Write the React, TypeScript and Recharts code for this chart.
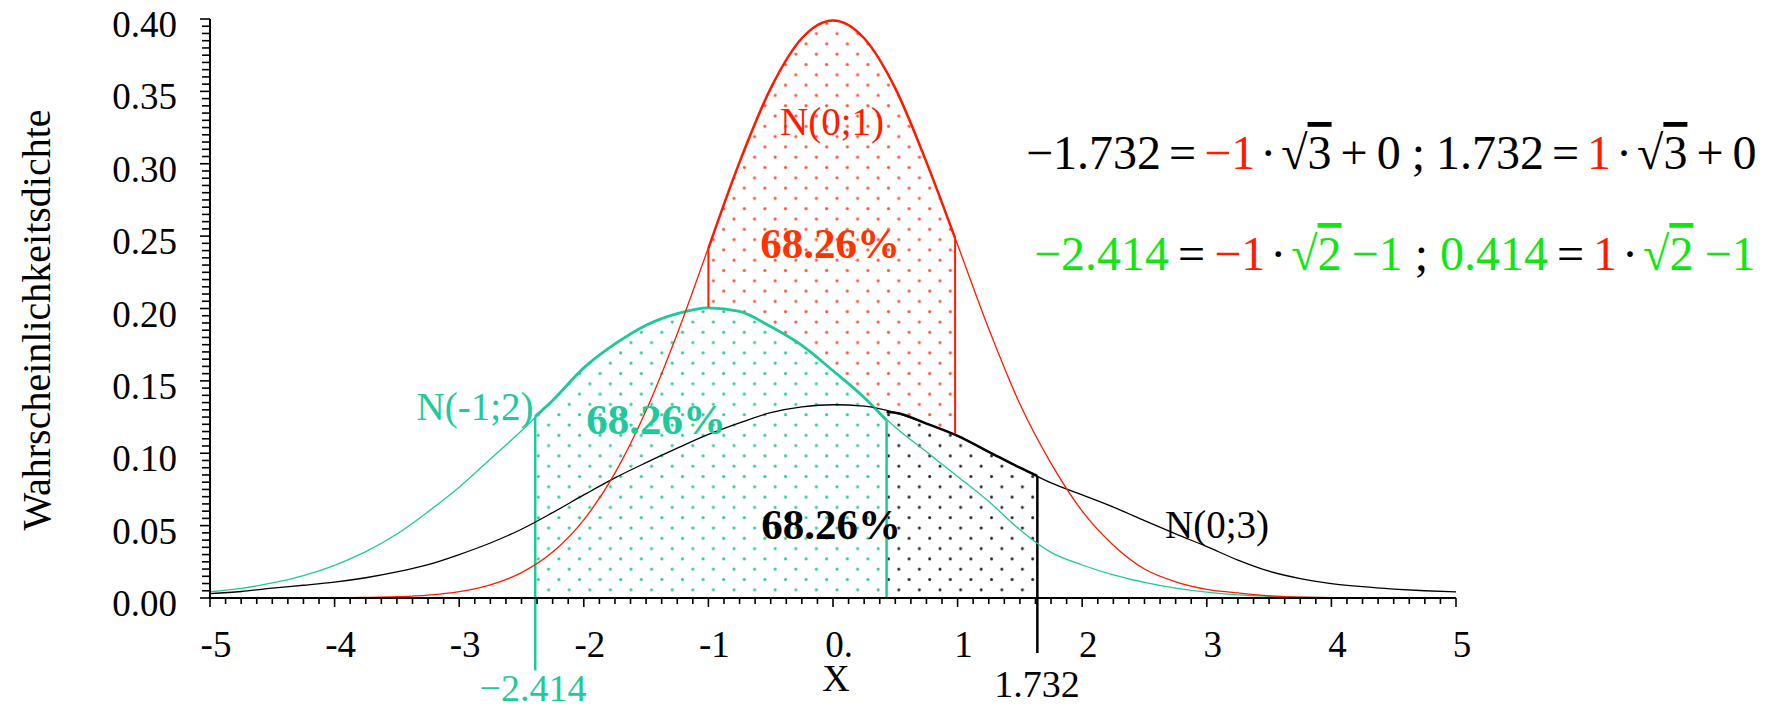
import { Area, ComposedChart, Line, ReferenceLine, XAxis, YAxis } from 'recharts'

const FONT = '"Liberation Serif", "Times New Roman", serif'
const RED = '#ff1a00'
const TEAL = '#1ec99a'
const GREEN = '#11e611'
const BLACK = '#000000'

const X_VALUES = [
  -5, -4.75, -4.5, -4.25, -4, -3.75, -3.5, -3.25, -3, -2.75, -2.5, -2.25, -2, -1.75, -1.5, -1.25, -1, -0.75, -0.5, -0.25,
  0, 0.25, 0.5, 0.75, 1, 1.25, 1.5, 1.75, 2, 2.25, 2.5, 2.75, 3, 3.25, 3.5, 3.75, 4, 4.25, 4.5, 4.75, 5
]

// N(0;1)
const RED_DENSITY = [
  0, 0, 0, 0.0001, 0.0001, 0.0004, 0.0009, 0.002, 0.0044, 0.0091, 0.0175, 0.0317, 0.054, 0.0863, 0.1295, 0.1826, 0.242,
  0.3011, 0.3521, 0.3867, 0.399, 0.3867, 0.3521, 0.3011, 0.244, 0.186, 0.134, 0.093, 0.06, 0.0365, 0.02, 0.0112, 0.006,
  0.0035, 0.0015, 0.0006, 0.0002, 0.0001, 0, 0, 0
]

// N(-1;2)
const TEAL_DENSITY = [
  0.0043, 0.0067, 0.0104, 0.0155, 0.0226, 0.032, 0.0442, 0.0596, 0.0765, 0.096, 0.1155, 0.1365, 0.159, 0.1755, 0.1885, 0.1965,
  0.2005, 0.198, 0.1875, 0.1745, 0.157, 0.1385, 0.118, 0.101, 0.084, 0.0667, 0.0472, 0.0315, 0.0228, 0.016, 0.0108, 0.0068,
  0.004, 0.0022, 0.0012, 0.0006, 0.0003, 0.0001, 0.0001, 0, 0
]

// N(0;3)
const BLACK_DENSITY = [
  0.003, 0.0045, 0.0068, 0.0088, 0.011, 0.014, 0.018, 0.023, 0.03, 0.038, 0.0475, 0.059, 0.0712, 0.083, 0.0935, 0.1035,
  0.113, 0.121, 0.128, 0.132, 0.1335, 0.1325, 0.128, 0.1205, 0.112, 0.101, 0.09, 0.0795, 0.0712, 0.0628, 0.0535, 0.0443,
  0.0355, 0.0262, 0.0185, 0.0134, 0.01, 0.0078, 0.0062, 0.005, 0.0042
]

// shaded 68.26% bands: [from, to, height at from, height at to]
const RED_BAND = [-1, 0.98, 0.2415, 0.2485]
const TEAL_BAND = [-2.39, 0.43, 0.1255, 0.1226]
const BLACK_BAND = [0.43, 1.64, 0.1285, 0.0843]

// vertical band edges: [x, y from, y to]
const RED_EDGES = [[-1, 0.2005, 0.2415], [0.98, 0.112, 0.2485]]
const TEAL_EDGES = [[-2.39, -0.05, 0.1255], [0.43, 0, 0.1226]]
const BLACK_EDGES = [[1.64, -0.038, 0.0843]]

const X_TICK_VALUES = [-5, -4, -3, -2, -1, 0, 1, 2, 3, 4, 5]
const X_TICK_LABELS = ['-5', '-4', '-3', '-2', '-1', '0.', '1', '2', '3', '4', '5']
const X_MINOR_STEP = 0.125
const Y_TICK_VALUES = [0, 0.05, 0.1, 0.15, 0.2, 0.25, 0.3, 0.35, 0.4]
const Y_TICK_LABELS = ['0.00', '0.05', '0.10', '0.15', '0.20', '0.25', '0.30', '0.35', '0.40']
const Y_MINOR_STEP = 0.005

const xTicks = Array.from({ length: 81 }, (_, i) => +(-5 + i * X_MINOR_STEP).toFixed(3))
const yTicks = Array.from({ length: 81 }, (_, i) => +(i * Y_MINOR_STEP).toFixed(3))

const curve = (values: number[]) => X_VALUES.map((x, i) => ({ x, y: values[i] }))

const band = (values: number[], [from, to, fromTop, toTop]: number[]) => [
  { x: from, y: fromTop },
  ...X_VALUES.map((x, i) => ({ x, y: values[i] })).filter((p) => p.x > from && p.x < to),
  { x: to, y: toTop }
]

const EQ1 = [
  { t: '−1.732', c: BLACK },
  { t: '=', c: BLACK, dx: 8 },
  { t: '−1', c: RED, dx: 8 },
  { t: '·', c: BLACK, dx: 5 },
  { t: '√', c: BLACK, dx: 5 },
  { t: '3', c: BLACK, o: true },
  { t: '+', c: BLACK, dx: 9 },
  { t: '0', c: BLACK, dx: 9 },
  { t: ';', c: BLACK, dx: 11 },
  { t: '1.732', c: BLACK, dx: 11 },
  { t: '=', c: BLACK, dx: 8 },
  { t: '1', c: RED, dx: 8 },
  { t: '·', c: BLACK, dx: 5 },
  { t: '√', c: BLACK, dx: 5 },
  { t: '3', c: BLACK, o: true },
  { t: '+', c: BLACK, dx: 9 },
  { t: '0', c: BLACK, dx: 9 }
]

const EQ2 = [
  { t: '−2.414', c: GREEN },
  { t: '=', c: BLACK, dx: 9 },
  { t: '−1', c: RED, dx: 9 },
  { t: '·', c: BLACK, dx: 5 },
  { t: '√', c: GREEN, dx: 5 },
  { t: '2', c: GREEN, o: true },
  { t: '−1', c: GREEN, dx: 10 },
  { t: ';', c: BLACK, dx: 12 },
  { t: '0.414', c: GREEN, dx: 12 },
  { t: '=', c: BLACK, dx: 9 },
  { t: '1', c: RED, dx: 9 },
  { t: '·', c: BLACK, dx: 5 },
  { t: '√', c: GREEN, dx: 5 },
  { t: '2', c: GREEN, o: true },
  { t: '−1', c: GREEN, dx: 11 }
]

function XTick(props: any) {
  const { x, y, payload } = props
  const idx = X_TICK_VALUES.findIndex((v) => Math.abs(v - payload.value) < 1e-6)
  const major = idx >= 0
  return (
    <g>
      <line x1={x} y1={y} x2={x} y2={y + (major ? 9 : 6)} stroke="#000" strokeWidth={1.6} />
      {major && (
        <text x={x + 6} y={y + 59} textAnchor="middle" fontSize={37} fontFamily={FONT} fill="#000">
          {X_TICK_LABELS[idx]}
        </text>
      )}
    </g>
  )
}

function YTick(props: any) {
  const { x, y, payload } = props
  const idx = Y_TICK_VALUES.findIndex((v) => Math.abs(v - payload.value) < 1e-6)
  const major = idx >= 0
  return (
    <g>
      <line x1={x - (major ? 10 : 8)} y1={y} x2={x} y2={y} stroke="#000" strokeWidth={1.6} />
      {major && (
        <text x={x - 33} y={y + 18} textAnchor="end" fontSize={37} fontFamily={FONT} fill="#000">
          {Y_TICK_LABELS[idx]}
        </text>
      )}
    </g>
  )
}

function Equation({ x, y, parts }: { x: number; y: number; parts: any[] }) {
  return (
    <text x={x} y={y} fontSize={48} fontFamily={FONT}>
      {parts.map((p, i) => (
        <tspan
          key={i}
          dx={p.dx ?? 0}
          fill={p.c}
          style={p.o ? { textDecoration: 'overline', textDecorationThickness: '2px' } : undefined}
        >
          {p.t}
        </tspan>
      ))}
    </text>
  )
}

function Dots({ id, color, r }: { id: string; color: string; r: number }) {
  return (
    <pattern id={id} patternUnits="userSpaceOnUse" width={20.6} height={20.6}>
      <rect width={20.6} height={20.6} fill="#fff" />
      <circle cx={5} cy={5} r={r} fill={color} />
      <circle cx={15.3} cy={15.3} r={r} fill={color} />
    </pattern>
  )
}

export default function App() {
  const edges = [
    ...RED_EDGES.map((e) => ({ e, color: RED, w: 2 })),
    ...TEAL_EDGES.map((e) => ({ e, color: TEAL, w: 2.5 })),
    ...BLACK_EDGES.map((e) => ({ e, color: BLACK, w: 2.5 }))
  ]

  return (
    <div style={{ position: 'relative', width: 1762, height: 700, fontFamily: FONT }}>
      <style>{'.recharts-surface { overflow: visible; }'}</style>
      <svg width={0} height={0} style={{ position: 'absolute' }}>
        <defs>
          <Dots id="dotsRed" color="#ff5533" r={1.6} />
          <Dots id="dotsTeal" color="#2ecc9a" r={1.6} />
          <Dots id="dotsBlack" color="#222222" r={1.5} />
        </defs>
      </svg>

      <ComposedChart width={1762} height={700} margin={{ top: 11, right: 314, bottom: 50, left: 82 }}>
        <XAxis
          dataKey="x"
          type="number"
          domain={[-5, 5]}
          ticks={xTicks}
          interval={0}
          tick={(p: any) => <XTick {...p} />}
          tickLine={false}
          tickSize={0}
          tickMargin={0}
          axisLine={{ stroke: '#000', strokeWidth: 2 }}
          height={60}
          allowDataOverflow
        />
        <YAxis
          type="number"
          domain={[0, 0.4]}
          ticks={yTicks}
          interval={0}
          tick={(p: any) => <YTick {...p} />}
          tickLine={false}
          tickSize={0}
          tickMargin={0}
          axisLine={{ stroke: '#000', strokeWidth: 2 }}
          width={120}
          allowDataOverflow
        />

        <Area data={band(RED_DENSITY, RED_BAND)} dataKey="y" type="monotone" stroke={RED} strokeWidth={2.5} fill="url(#dotsRed)" fillOpacity={1} dot={false} activeDot={false} isAnimationActive={false} />
        <Area data={band(TEAL_DENSITY, TEAL_BAND)} dataKey="y" type="monotone" stroke={TEAL} strokeWidth={2.8} fill="url(#dotsTeal)" fillOpacity={1} dot={false} activeDot={false} isAnimationActive={false} />
        <Area data={band(BLACK_DENSITY, BLACK_BAND)} dataKey="y" type="monotone" stroke={BLACK} strokeWidth={2.5} fill="url(#dotsBlack)" fillOpacity={1} dot={false} activeDot={false} isAnimationActive={false} />

        {edges.map(({ e, color, w }, i) => (
          <ReferenceLine
            key={i}
            segment={[{ x: e[0], y: e[1] }, { x: e[0], y: e[2] }]}
            stroke={color}
            strokeWidth={w}
            ifOverflow="visible"
          />
        ))}

        <Line data={curve(BLACK_DENSITY)} dataKey="y" type="monotone" stroke={BLACK} strokeWidth={1.3} dot={false} activeDot={false} isAnimationActive={false} />
        <Line data={curve(TEAL_DENSITY)} dataKey="y" type="monotone" stroke={TEAL} strokeWidth={1.3} dot={false} activeDot={false} isAnimationActive={false} />
        <Line data={curve(RED_DENSITY)} dataKey="y" type="monotone" stroke={RED} strokeWidth={1.3} dot={false} activeDot={false} isAnimationActive={false} />
      </ComposedChart>

      <svg width={1762} height={700} style={{ position: 'absolute', left: 0, top: 0, pointerEvents: 'none', overflow: 'visible' }}>
        <text transform="translate(42, 312) rotate(-90)" textAnchor="middle" fontSize={40} fontFamily={FONT} fill="#000">
          Wahrscheinlichkeitsdichte
        </text>
        <text x={828} y={683} textAnchor="middle" fontSize={38} fontFamily={FONT} fill="#000">X</text>
        <text x={525} y={693} textAnchor="middle" fontSize={38} fontFamily={FONT} fill={TEAL}>−2.414</text>
        <text x={1029} y={689} textAnchor="middle" fontSize={38} fontFamily={FONT} fill="#000">1.732</text>

        <text x={824} y={127} textAnchor="middle" fontSize={39} fontFamily={FONT} fill={RED}>N(0;1)</text>
        <text x={467} y={412} textAnchor="middle" fontSize={39} fontFamily={FONT} fill={TEAL}>N(-1;2)</text>
        <text x={1209} y={530} textAnchor="middle" fontSize={39} fontFamily={FONT} fill="#000">N(0;3)</text>

        <text x={822} y={250} textAnchor="middle" fontSize={43} fontWeight="bold" fontFamily={FONT} fill="#ff3300">68.26%</text>
        <text x={648} y={426} textAnchor="middle" fontSize={43} fontWeight="bold" fontFamily={FONT} fill={TEAL}>68.26%</text>
        <text x={823} y={531} textAnchor="middle" fontSize={43} fontWeight="bold" fontFamily={FONT} fill="#000">68.26%</text>

        <Equation x={1018} y={161} parts={EQ1} />
        <Equation x={1026} y={262} parts={EQ2} />
      </svg>
    </div>
  )
}
